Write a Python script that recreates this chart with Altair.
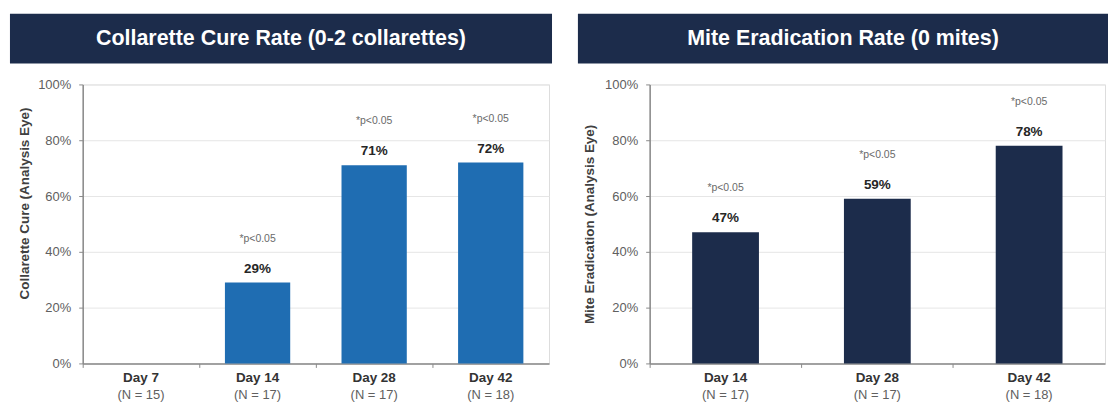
import altair as alt
import pandas as pd

# ---------------- data ----------------
left_days = ["Day 7", "Day 14", "Day 28", "Day 42"]
left_n = ["(N = 15)", "(N = 17)", "(N = 17)", "(N = 18)"]
left_rates = [None, 29, 71, 72]
left_p = ["", "*p<0.05", "*p<0.05", "*p<0.05"]

right_days = ["Day 14", "Day 28", "Day 42"]
right_n = ["(N = 17)", "(N = 17)", "(N = 18)"]
right_rates = [47, 59, 78]
right_p = ["*p<0.05", "*p<0.05", "*p<0.05"]

panel_titles = ["Collarette Cure Rate (0-2 collarettes)", "Mite Eradication Rate (0 mites)"]
y_titles = ["Collarette Cure (Analysis Eye)", "Mite Eradication (Analysis Eye)"]
y_ticks = [0, 20, 40, 60, 80, 100]

FONT = "Liberation Sans"
NAVY = "#1c2c4b"
BLUE = "#1f6db2"
H = 280


def panel(days, ns, rates, ps, title, ytitle, color, width, bar_frac,
          banner_left, banner_right, title_pad, title_y=None):
    df = pd.DataFrame({
        "day": days,
        "n": ns,
        "rate": rates,
        "p": ps,
        "label": [f"{r}%" if r is not None else "" for r in rates],
    })
    xscale = alt.Scale(domain=days, paddingInner=0, paddingOuter=0)
    x_main = alt.X(
        "day:N", sort=days, scale=xscale,
        axis=alt.Axis(title=None, labels=False, bandPosition=0, tickSize=4,
                      tickColor="#8a8a8a", domainColor="#8a8a8a", domainWidth=1.5,
                      grid=False),
    )
    x_plain = alt.X("day:N", sort=days, scale=xscale)
    axis_kw = dict(values=y_ticks, labelExpr="datum.value + '%'", title=ytitle,
                   titleFont=FONT, titleFontSize=13.5, titleFontWeight="bold",
                   titleColor="#404040", titlePadding=title_pad,
                   labelFont=FONT, labelFontSize=13, labelColor="#606060",
                   labelPadding=8, tickSize=4, tickColor="#8a8a8a",
                   domainColor="#8a8a8a", domainWidth=1.5,
                   grid=True, gridColor="#e6e6e6", gridWidth=1)
    if title_y is not None:
        axis_kw["titleY"] = title_y
    y_main = alt.Y("rate:Q", scale=alt.Scale(domain=[0, 100], nice=False),
                   axis=alt.Axis(**axis_kw))
    base = alt.Chart(df)
    bars = base.mark_bar(color=color, width=alt.RelativeBandSize(bar_frac)).encode(
        x=x_main, y=y_main)
    vals = base.mark_text(dy=-14, font=FONT, fontSize=13.5, fontWeight="bold",
                          color="#262626", baseline="middle").encode(
        x=x_plain, y="rate:Q", text="label:N")
    pvals = base.mark_text(dy=-44, font=FONT, fontSize=10.5, color="#6a6a6a",
                           baseline="middle").encode(
        x=x_plain, y="rate:Q", text="p:N")
    daylab = base.mark_text(font=FONT, fontSize=13.5, fontWeight="bold",
                            color="#333333", baseline="middle").encode(
        x=x_plain, y=alt.value(H + 15), text="day:N")
    nlab = base.mark_text(font=FONT, fontSize=13, color="#606060",
                          baseline="middle").encode(
        x=x_plain, y=alt.value(H + 32), text="n:N")
    tdf = pd.DataFrame({"t": [title]})
    banner = alt.Chart(tdf).mark_rect(color=NAVY).encode(
        x=alt.value(banner_left), x2=alt.value(banner_right),
        y=alt.value(-71), y2=alt.value(-21))
    btext = alt.Chart(tdf).mark_text(font=FONT, fontSize=21.5, fontWeight="bold",
                                     color="#ffffff", baseline="middle").encode(
        x=alt.value((banner_left + banner_right) / 2), y=alt.value(-46), text="t:N")
    return alt.layer(bars, vals, pvals, daylab, nlab, banner, btext).properties(
        width=width, height=H)


left = panel(left_days, left_n, left_rates, left_p, panel_titles[0], y_titles[0],
             BLUE, 468, 0.56, -73, 471, 6, title_y=119)
right = panel(right_days, right_n, right_rates, right_p, panel_titles[1], y_titles[1],
              NAVY, 457, 0.44, -72, 460, 8)

chart = alt.hconcat(left, right, spacing=24).properties(
    padding={"left": 9, "top": 12, "right": 0, "bottom": 0}
).configure_view(stroke="transparent").configure(font=FONT)

chart.save("out.html", embed_options={"renderer": "svg", "actions": False})
